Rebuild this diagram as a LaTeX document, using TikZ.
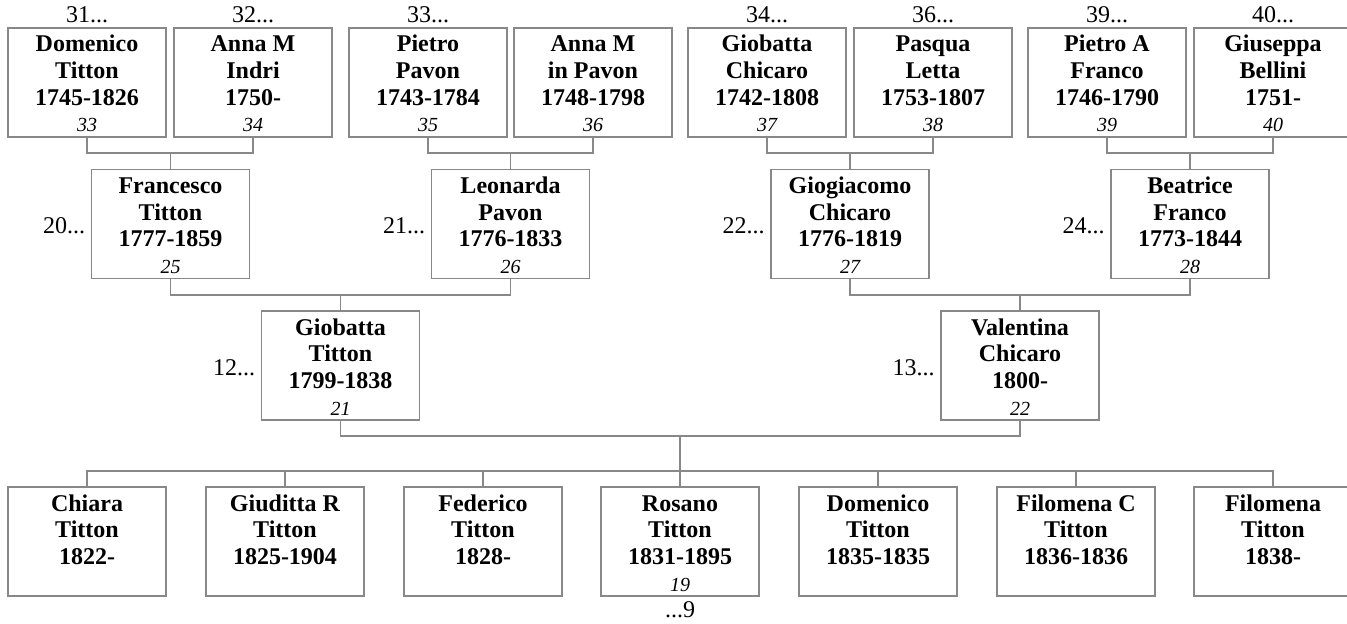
\documentclass[tikz,border=0pt]{standalone}
\usepackage{fontspec}
\setmainfont{Liberation Serif}
\usetikzlibrary{calc}
\definecolor{linegray}{RGB}{136,136,136}
\newcommand{\pbox}[2]{\parbox[c][81.75pt][t]{118.5pt}{\centering\fontsize{18pt}{20pt}\selectfont\rule{0pt}{18pt}\bfseries #1\ifx\relax#2\relax\else\\{\mdseries\itshape\fontsize{15pt}{20pt}\selectfont #2}\fi}}
\tikzset{
  box/.style={draw=linegray, line width=1.1pt, minimum width=118.5pt, minimum height=81.75pt, inner sep=0pt, outer sep=0pt},
  conn/.style={draw=linegray, line width=1.1pt},
  lbl/.style={inner sep=0pt, font=\fontsize{18pt}{20pt}\selectfont}
}
\begin{document}
\begin{tikzpicture}[x=0.75pt,y=-0.75pt]
\useasboundingbox (0,0) rectangle (1347,624);
% top row
\node[box] (p31) at (87,82.5) {\pbox{Domenico\\Titton\\1745-1826}{33}};
\node[box] (p32) at (253,82.5) {\pbox{Anna M\\Indri\\1750-}{34}};
\node[box] (p33) at (428,82.5) {\pbox{Pietro\\Pavon\\1743-1784}{35}};
\node[box] (p36a) at (593,82.5) {\pbox{Anna M\\in Pavon\\1748-1798}{36}};
\node[box] (p34) at (767,82.5) {\pbox{Giobatta\\Chicaro\\1742-1808}{37}};
\node[box] (p36) at (933,82.5) {\pbox{Pasqua\\Letta\\1753-1807}{38}};
\node[box] (p39) at (1107,82.5) {\pbox{Pietro A\\Franco\\1746-1790}{39}};
\node[box] (p40) at (1273,82.5) {\pbox{Giuseppa\\Bellini\\1751-}{40}};
% labels above top row
\node[lbl, anchor=base] (l31) at ($(p31.north)+(0,-5)$) {31...};
\node[lbl, anchor=base] (l32) at ($(p32.north)+(0,-5)$) {32...};
\node[lbl, anchor=base] (l33) at ($(p33.north)+(0,-5)$) {33...};
\node[lbl, anchor=base] (l34) at ($(p34.north)+(0,-5)$) {34...};
\node[lbl, anchor=base] (l36) at ($(p36.north)+(0,-5)$) {36...};
\node[lbl, anchor=base] (l39) at ($(p39.north)+(0,-5)$) {39...};
\node[lbl, anchor=base] (l40) at ($(p40.north)+(0,-5)$) {40...};
% middle row
\node[box] (p20) at (170.5,224) {\pbox{Francesco\\Titton\\1777-1859}{25}};
\node[box] (p21) at (510.5,224) {\pbox{Leonarda\\Pavon\\1776-1833}{26}};
\node[box] (p22) at (850,224) {\pbox{Giogiacomo\\Chicaro\\1776-1819}{27}};
\node[box] (p24) at (1190,224) {\pbox{Beatrice\\Franco\\1773-1844}{28}};
\node[lbl, anchor=base east] (l20) at ($(p20.west)+(-6,10)$) {20...};
\node[lbl, anchor=base east] (l21) at ($(p21.west)+(-6,10)$) {21...};
\node[lbl, anchor=base east] (l22) at ($(p22.west)+(-6,10)$) {22...};
\node[lbl, anchor=base east] (l24) at ($(p24.west)+(-6,10)$) {24...};
% parents
\node[box] (p12) at (340.5,365.5) {\pbox{Giobatta\\Titton\\1799-1838}{21}};
\node[box] (p13) at (1020,365.5) {\pbox{Valentina\\Chicaro\\1800-}{22}};
\node[lbl, anchor=base east] (l12) at ($(p12.west)+(-6,9.5)$) {12...};
\node[lbl, anchor=base east] (l13) at ($(p13.west)+(-6,9.5)$) {13...};
% children
\node[box] (c1) at (87,541.5) {\pbox{Chiara\\Titton\\1822-}{}};
\node[box] (c2) at (285,541.5) {\pbox{Giuditta R\\Titton\\1825-1904}{}};
\node[box] (c3) at (483,541.5) {\pbox{Federico\\Titton\\1828-}{}};
\node[box] (c4) at (680,541.5) {\pbox{Rosano\\Titton\\1831-1895}{19}};
\node[box] (c5) at (878,541.5) {\pbox{Domenico\\Titton\\1835-1835}{}};
\node[box] (c6) at (1076,541.5) {\pbox{Filomena C\\Titton\\1836-1836}{}};
\node[box] (c7) at (1273,541.5) {\pbox{Filomena\\Titton\\1838-}{}};
\node[lbl, anchor=base] (l9) at ($(c4.south)+(0,21.5)$) {...9};
% junctions
\coordinate (j20) at (170.5,153);
\coordinate (j21) at (510.5,153);
\coordinate (j22) at (850,153);
\coordinate (j24) at (1190,153);
\coordinate (j12) at (340.5,295);
\coordinate (j13) at (1020,295);
\coordinate (cpl) at (680,436);
\coordinate (bus) at (680,471);
% connectors
\draw[conn] (p31.south) |- (j20) -| (p32.south);
\draw[conn] (j20) -- (p20.north);
\draw[conn] (p33.south) |- (j21) -| (p36a.south);
\draw[conn] (j21) -- (p21.north);
\draw[conn] (p34.south) |- (j22) -| (p36.south);
\draw[conn] (j22) -- (p22.north);
\draw[conn] (p39.south) |- (j24) -| (p40.south);
\draw[conn] (j24) -- (p24.north);
\draw[conn] (p20.south) |- (j12) -| (p21.south);
\draw[conn] (j12) -- (p12.north);
\draw[conn] (p22.south) |- (j13) -| (p24.south);
\draw[conn] (j13) -- (p13.north);
\draw[conn] (p12.south) |- (cpl) -| (p13.south);
\draw[conn] (cpl) -- (c4.north);
\draw[conn] (c1.north) |- (bus) -| (c7.north);
\draw[conn] (c2.north) -- (c2.north |- bus);
\draw[conn] (c3.north) -- (c3.north |- bus);
\draw[conn] (c5.north) -- (c5.north |- bus);
\draw[conn] (c6.north) -- (c6.north |- bus);
\end{tikzpicture}
\end{document}
